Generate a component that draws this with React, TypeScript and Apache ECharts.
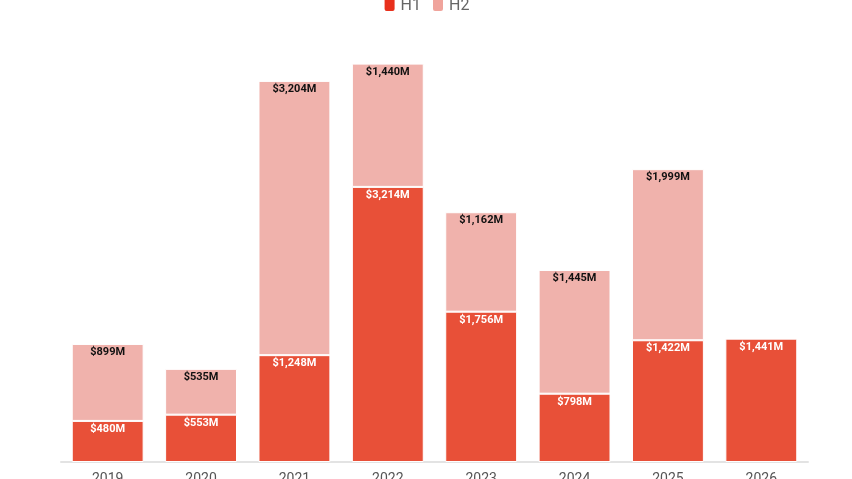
import React, { useEffect, useRef } from "react";
import * as echarts from "echarts";

const years = ["2019", "2020", "2021", "2022", "2023", "2024", "2025", "2026"];
const h1Values = [480, 553, 1248, 3214, 1756, 798, 1422, 1441];
const h2Values: (number | null)[] = [899, 535, 3204, 1440, 1162, 1445, 1999, null];

const fmt = (v: number) => "$" + v.toLocaleString("en-US") + "M";

export default function App() {
  const ref = useRef<HTMLDivElement>(null);
  useEffect(() => {
    if (!ref.current) return;
    const chart = echarts.init(ref.current, undefined, { renderer: "svg" });
    chart.setOption({
      animation: false,
      textStyle: { fontFamily: "Roboto, 'Liberation Sans', sans-serif" },
      legend: {
        top: 3,
        left: "center",
        icon: "roundRect",
        itemWidth: 12,
        itemHeight: 15,
        itemGap: 10,
        textStyle: { fontSize: 16, color: "#666" },
        data: [
          { name: "H1", itemStyle: { color: "#e8301c" } },
          { name: "H2", itemStyle: { color: "#f0a49c" } },
        ],
      },
      grid: { left: 61, right: 44, top: 46, bottom: 37, outerBoundsMode: "none", containLabel: false },
      xAxis: {
        type: "category",
        data: years,
        axisLine: { lineStyle: { color: "#e3e3e3", width: 2 } },
        axisTick: { alignWithLabel: true, length: 5, lineStyle: { color: "#e3e3e3", width: 2 } },
        axisLabel: { color: "#555", fontSize: 14, margin: 9 },
      },
      yAxis: { type: "value", min: 0, max: 5000, show: false, splitLine: { show: false } },
      series: [
        {
          name: "H1",
          type: "bar",
          stack: "total",
          data: h1Values,
          barCategoryGap: "23%",
          itemStyle: { color: "#e85038", borderColor: "#fff", borderWidth: 1 },
          label: {
            show: true,
            position: "insideTop",
            distance: 2,
            color: "#fff",
            fontWeight: "bold",
            fontSize: 11,
            formatter: (p: any) => fmt(p.value),
          },
        },
        {
          name: "H2",
          type: "bar",
          stack: "total",
          data: h2Values,
          itemStyle: { color: "#f0b2ac", borderColor: "#fff", borderWidth: 1 },
          label: {
            show: true,
            position: "insideTop",
            distance: 2,
            color: "#111",
            fontWeight: "bold",
            fontSize: 11,
            formatter: (p: any) => fmt(p.value),
          },
        },
      ],
    });
    return () => chart.dispose();
  }, []);
  return (
    <div style={{ position: "fixed", left: 0, top: 0, width: 852, height: 479, overflow: "hidden" }}>
      <div
        ref={ref}
        style={{ position: "absolute", left: 0, top: -12, width: 852, height: 511 }}
      />
    </div>
  );
}
